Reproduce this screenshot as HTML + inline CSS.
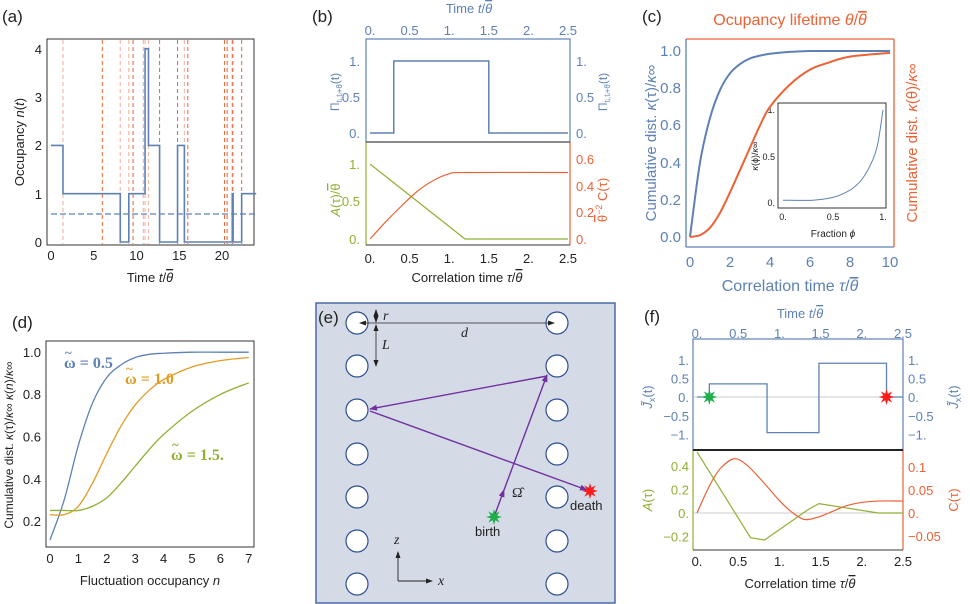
<!DOCTYPE html>
<html><head><meta charset="utf-8">
<style>
html,body{margin:0;padding:0;background:#fff;}
svg{display:block;font-family:"Liberation Sans",sans-serif;}
.t{font-size:13px;fill:#222;}
.bl{fill:#5e81b5;} .gr{fill:#8fb032;} .rd{fill:#eb6235;} .or{fill:#e19c24;}
</style></head>
<body>
<svg id="fig" width="970" height="604" viewBox="0 0 970 604">
<!-- Panel a -->
<g>
<text x="2" y="22" font-size="17" fill="#222">(a)</text>
<rect x="47" y="39" width="207" height="206" fill="none" stroke="#333" stroke-width="1"/>
<g id="a-lines"></g>
<g class="t" text-anchor="middle">
<text x="51" y="260">0</text><text x="93.8" y="260">5</text><text x="136.5" y="260">10</text><text x="179.3" y="260">15</text><text x="222" y="260">20</text></g>
<g class="t" text-anchor="end">
<text x="42" y="247">0</text><text x="42" y="199">1</text><text x="42" y="150">2</text><text x="42" y="102">3</text><text x="42" y="54">4</text></g>
<text class="t" x="150" y="282" text-anchor="middle">Time <tspan font-style="italic">t</tspan>/<tspan font-style="italic" text-decoration="overline">θ</tspan></text>
<text class="t" transform="translate(24,142) rotate(-90)" text-anchor="middle">Occupancy <tspan font-style="italic">n</tspan>(<tspan font-style="italic">t</tspan>)</text>
</g>
<!-- Panel b -->
<g>
<text x="312" y="22" font-size="17" fill="#222">(b)</text>
<rect x="366" y="39" width="204" height="103" fill="none" stroke="#5e81b5" stroke-width="1.2"/>
<line x1="366" y1="142" x2="366" y2="245" stroke="#8fb032" stroke-width="1.2"/>
<line x1="570" y1="142" x2="570" y2="245" stroke="#eb6235" stroke-width="1.2"/>
<line x1="366" y1="142" x2="570" y2="142" stroke="#555" stroke-width="1.2"/>
<line x1="366" y1="245" x2="570" y2="245" stroke="#333" stroke-width="1"/>
<text class="bl" x="469" y="13" font-size="13" text-anchor="middle">Time <tspan font-style="italic">t</tspan>/<tspan font-style="italic" text-decoration="overline">θ</tspan></text>
<g class="bl" font-size="13" text-anchor="middle">
<text x="370" y="35">0.</text><text x="409.6" y="35">0.5</text><text x="449.2" y="35">1.</text><text x="488.8" y="35">1.5</text><text x="528.4" y="35">2.</text><text x="568" y="35">2.5</text></g>
<g class="bl" font-size="13" text-anchor="end"><text x="360" y="66">1.</text><text x="360" y="102">0.5</text><text x="360" y="138">0.</text></g>
<g class="bl" font-size="13"><text x="576" y="66">1.</text><text x="576" y="102">0.5</text><text x="576" y="138">0.</text></g>
<g class="gr" font-size="13" text-anchor="end"><text x="360" y="169">1.</text><text x="360" y="206">0.5</text><text x="360" y="244">0.</text></g>
<g class="rd" font-size="13"><text x="576" y="164">0.6</text><text x="576" y="191">0.4</text><text x="576" y="217">0.2</text><text x="576" y="244">0.</text></g>
<g class="t" text-anchor="middle">
<text x="370" y="263">0.</text><text x="409.6" y="263">0.5</text><text x="449.2" y="263">1.</text><text x="488.8" y="263">1.5</text><text x="528.4" y="263">2.</text><text x="568" y="263">2.5</text></g>
<text class="t" x="467" y="282" text-anchor="middle">Correlation time <tspan font-style="italic">τ</tspan>/<tspan font-style="italic" text-decoration="overline">θ</tspan></text>
<text class="bl" font-size="12" transform="translate(339,92) rotate(-90)" text-anchor="middle">Π<tspan font-size="8" dy="3">tᵢ,tᵢ+θ</tspan><tspan dy="-3">(t)</tspan></text>
<text class="bl" font-size="12" transform="translate(607,92) rotate(-90)" text-anchor="middle">Π<tspan font-size="8" dy="3">tᵢ,tᵢ+θ</tspan><tspan dy="-3">(t)</tspan></text>
<text class="gr" font-size="13" transform="translate(340,200) rotate(-90)" text-anchor="middle"><tspan font-style="italic">A</tspan>(τ)/<tspan text-decoration="overline">θ</tspan></text>
<text class="rd" font-size="13" transform="translate(607,200) rotate(-90)" text-anchor="middle"><tspan text-decoration="overline">θ</tspan><tspan font-size="9" dy="-5">−2</tspan><tspan dy="5"> C(τ)</tspan></text>
</g>
<!-- Panel c -->
<g>
<text x="642" y="22" font-size="17" fill="#222">(c)</text>
<line x1="686" y1="39" x2="894" y2="39" stroke="#eb6235" stroke-width="1.3"/>
<line x1="894" y1="39" x2="894" y2="247" stroke="#eb6235" stroke-width="1.3"/>
<line x1="686" y1="39" x2="686" y2="247" stroke="#5e81b5" stroke-width="1.3"/>
<line x1="686" y1="247" x2="894" y2="247" stroke="#5e81b5" stroke-width="1.3"/>
<text class="rd" x="790" y="25" font-size="16" text-anchor="middle">Ocupancy lifetime <tspan font-style="italic">θ</tspan>/<tspan font-style="italic" text-decoration="overline">θ</tspan></text>
<g class="bl" font-size="15" text-anchor="middle">
<text x="690" y="267">0</text><text x="730" y="267">2</text><text x="770" y="267">4</text><text x="810" y="267">6</text><text x="850" y="267">8</text><text x="890" y="267">10</text></g>
<g class="bl" font-size="15" text-anchor="end">
<text x="681" y="242">0.0</text><text x="681" y="205">0.2</text><text x="681" y="168">0.4</text><text x="681" y="130">0.6</text><text x="681" y="93">0.8</text><text x="681" y="56">1.0</text></g>
<text class="bl" x="790" y="291" font-size="16" text-anchor="middle">Correlation time <tspan font-style="italic">τ</tspan>/<tspan font-style="italic" text-decoration="overline">θ</tspan></text>
<text class="bl" font-size="15" transform="translate(656,143) rotate(-90)" text-anchor="middle">Cumulative dist. <tspan font-style="italic">κ</tspan>(τ)/<tspan font-style="italic">κ</tspan>∞</text>
<text class="rd" font-size="15" transform="translate(917,143) rotate(-90)" text-anchor="middle">Cumulative dist. <tspan font-style="italic">κ</tspan>(θ)/<tspan font-style="italic">κ</tspan>∞</text>
<rect x="778" y="103" width="108" height="105" fill="#fff" stroke="#333" stroke-width="1"/>
<g font-size="9" fill="#222" text-anchor="middle"><text x="783" y="220">0.</text><text x="833" y="220">0.5</text><text x="883" y="220">1.</text></g>
<g font-size="9" fill="#222" text-anchor="end"><text x="775" y="206">0.</text><text x="775" y="160">0.5</text><text x="775" y="113">1.</text></g>
<text x="833" y="237" font-size="10" fill="#222" text-anchor="middle">Fraction <tspan font-style="italic">ϕ</tspan></text>
<text font-size="9" fill="#222" transform="translate(758,156) rotate(-90)" text-anchor="middle"><tspan font-style="italic">κ</tspan>(ϕ)/<tspan font-style="italic">κ</tspan>∞</text>
</g>
<!-- Panel d -->
<g>
<text x="12" y="328" font-size="17" fill="#222">(d)</text>
<rect x="46" y="341" width="208" height="206" fill="none" stroke="#333" stroke-width="1"/>
<g class="t" text-anchor="middle">
<text x="50" y="563">0</text><text x="78.4" y="563">1</text><text x="106.8" y="563">2</text><text x="135.2" y="563">3</text><text x="163.6" y="563">4</text><text x="192" y="563">5</text><text x="220.4" y="563">6</text><text x="248.8" y="563">7</text></g>
<g class="t" text-anchor="end">
<text x="41" y="526">0.2</text><text x="41" y="484">0.4</text><text x="41" y="441.5">0.6</text><text x="41" y="399">0.8</text><text x="41" y="357">1.0</text></g>
<text class="t" x="150" y="585" text-anchor="middle">Fluctuation occupancy <tspan font-style="italic">n</tspan></text>
<text font-size="12" fill="#222" transform="translate(13,445) rotate(-90)" text-anchor="middle">Cumulative dist. <tspan font-style="italic">κ</tspan>(τ)/<tspan font-style="italic">κ</tspan>∞ <tspan font-style="italic">κ</tspan>(<tspan font-style="italic">n</tspan>)/<tspan font-style="italic">κ</tspan>∞</text>
<g font-family="Liberation Serif,serif" font-size="16" font-weight="bold">
<text class="bl" x="64" y="368">ω = 0.5</text>
<text class="bl" x="65" y="357" font-size="13">~</text>
<text class="or" x="125" y="384">ω = 1.0</text>
<text class="or" x="126" y="373" font-size="13">~</text>
<text class="gr" x="171" y="460">ω = 1.5.</text>
<text class="gr" x="172" y="449" font-size="13">~</text>
</g>
</g>
<!-- Panel e -->
<g>
<defs>
<marker id="ah" markerWidth="8" markerHeight="8" refX="7" refY="4" orient="auto" markerUnits="userSpaceOnUse"><path d="M0,1 L8,4 L0,7 Z" fill="#7030a0"/></marker>
<marker id="ak" markerWidth="7" markerHeight="7" refX="6" refY="3.5" orient="auto" markerUnits="userSpaceOnUse"><path d="M0,1 L7,3.5 L0,6 Z" fill="#222"/></marker>
<marker id="ak2" markerWidth="7" markerHeight="7" refX="6" refY="3.5" orient="auto-start-reverse" markerUnits="userSpaceOnUse"><path d="M0,1 L7,3.5 L0,6 Z" fill="#222"/></marker>
</defs>
<rect x="316" y="303" width="299" height="300" fill="#d5dbe6" stroke="#4a6aa5" stroke-width="1.5"/>
<g id="e-circles"></g>
<text x="318" y="323" font-size="17" fill="#222">(e)</text>
<line x1="360" y1="323" x2="554" y2="323" stroke="#222" stroke-width="0.8" marker-start="url(#ak2)" marker-end="url(#ak)"/>
<line x1="376" y1="310" x2="376" y2="322" stroke="#222" stroke-width="0.8" marker-start="url(#ak2)" marker-end="url(#ak)"/>
<line x1="376" y1="325" x2="376" y2="366" stroke="#222" stroke-width="0.8" marker-start="url(#ak2)" marker-end="url(#ak)"/>
<text x="383" y="320" font-size="14" font-style="italic" font-family="Liberation Serif,serif" fill="#222">r</text>
<text x="461" y="337" font-size="14" font-style="italic" font-family="Liberation Serif,serif" fill="#222">d</text>
<text x="382" y="349" font-size="14" font-style="italic" font-family="Liberation Serif,serif" fill="#222">L</text>
<g stroke="#7030a0" stroke-width="1.4" fill="none">
<line x1="494" y1="517" x2="504" y2="490" marker-end="url(#ah)"/>
<line x1="504" y1="490" x2="547" y2="375" marker-end="url(#ah)"/>
<line x1="547" y1="376" x2="370" y2="409" marker-end="url(#ah)"/>
<line x1="370" y1="411" x2="587" y2="490" marker-end="url(#ah)"/>
</g>
<text x="512" y="497" font-size="14" font-family="Liberation Serif,serif" fill="#222">Ω̂</text>
<g id="e-stars"></g>
<text x="475" y="536" font-size="13" fill="#222">birth</text>
<text x="570" y="510" font-size="13" fill="#222">death</text>
<g stroke="#222" stroke-width="0.9">
<line x1="398" y1="581" x2="398" y2="552" marker-end="url(#ak)"/>
<line x1="398" y1="581" x2="432" y2="581" marker-end="url(#ak)"/></g>
<text x="394" y="544" font-size="14" font-style="italic" font-family="Liberation Serif,serif" fill="#222">z</text>
<text x="438" y="585" font-size="14" font-style="italic" font-family="Liberation Serif,serif" fill="#222">x</text>
</g>
<!-- Panel f -->
<g>
<text x="644" y="322" font-size="17" fill="#222">(f)</text>
<rect x="693" y="339" width="210" height="111" fill="none" stroke="#5e81b5" stroke-width="1.2"/>
<line x1="693" y1="450" x2="693" y2="550" stroke="#8fb032" stroke-width="1.2"/>
<line x1="903" y1="450" x2="903" y2="550" stroke="#eb6235" stroke-width="1.2"/>
<line x1="693" y1="450" x2="903" y2="450" stroke="#222" stroke-width="2"/>
<line x1="693" y1="550" x2="903" y2="550" stroke="#333" stroke-width="1"/>
<text class="bl" x="800" y="318" font-size="13" text-anchor="middle">Time <tspan font-style="italic">t</tspan>/<tspan font-style="italic" text-decoration="overline">θ</tspan></text>
<g class="bl" font-size="13" text-anchor="middle">
<text x="697" y="338">0.</text><text x="738.2" y="338">0.5</text><text x="779.4" y="338">1.</text><text x="820.6" y="338">1.5</text><text x="861.8" y="338">2.</text><text x="903" y="338">2.5</text></g>
<g class="bl" font-size="13" text-anchor="end"><text x="689" y="365">1.</text><text x="689" y="383.5">0.5</text><text x="689" y="402">0.</text><text x="689" y="421">−0.5</text><text x="689" y="439.5">−1.</text></g>
<g class="bl" font-size="13"><text x="908" y="365">1.</text><text x="908" y="383.5">0.5</text><text x="908" y="402">0.</text><text x="908" y="421">−0.5</text><text x="908" y="439.5">−1.</text></g>
<g class="gr" font-size="13" text-anchor="end"><text x="689" y="471">0.4</text><text x="689" y="494.5">0.2</text><text x="689" y="518">0.</text><text x="689" y="541.5">−0.2</text></g>
<g class="rd" font-size="13"><text x="908" y="472">0.1</text><text x="908" y="495">0.05</text><text x="908" y="518">0.</text><text x="908" y="541">−0.05</text></g>
<g class="t" text-anchor="middle">
<text x="697" y="566">0.</text><text x="738.2" y="566">0.5</text><text x="779.4" y="566">1.</text><text x="820.6" y="566">1.5</text><text x="861.8" y="566">2.</text><text x="903" y="566">2.5</text></g>
<text class="t" x="800" y="588" text-anchor="middle">Correlation time <tspan font-style="italic">τ</tspan>/<tspan font-style="italic" text-decoration="overline">θ</tspan></text>
<text class="bl" font-size="13" transform="translate(652,397) rotate(-90)" text-anchor="middle"><tspan font-style="italic">J̃</tspan><tspan font-size="9" dy="3">x</tspan><tspan dy="-3">(t)</tspan></text>
<text class="bl" font-size="13" transform="translate(958,397) rotate(-90)" text-anchor="middle"><tspan font-style="italic">J̃</tspan><tspan font-size="9" dy="3">x</tspan><tspan dy="-3">(t)</tspan></text>
<text class="gr" font-size="13" transform="translate(652,500) rotate(-90)" text-anchor="middle"><tspan font-style="italic">A</tspan>(τ)</text>
<text class="rd" font-size="13" transform="translate(958,500) rotate(-90)" text-anchor="middle">C(τ)</text>
</g>
<g id="marks"></g>
</svg>
<script>
// ---- data arrays ----
const aStepTimes = [0, 1.4, 8.1, 9.1, 11, 11.4, 12.7, 14.8, 15.6, 21.2, 21.3, 22.3, 24];
const aStepValues = [2, 1, 0, 1, 4, 2, 0, 2, 0, 1, 0, 1, 1];
const aMean = 0.58;
const aEventStrong = [6, 9.6, 12.7, 14.8, 16, 20.3, 20.6, 21.2, 22.3];
const aEventFaint = [1.4, 8.1, 9.1, 10.8, 11, 11.4, 15.6, 21.3];
const bPiTimes = [0, 0.3, 1.5, 2.5];
const bPiValues = [0, 1, 0, 0];
const bTau = [0, 0.2, 0.4, 0.6, 0.8, 1.0, 1.2, 2.5];
const bA = [1, 0.833, 0.667, 0.5, 0.333, 0.167, 0, 0];
const bC = [0, 0.13, 0.25, 0.36, 0.44, 0.49, 0.5, 0.5];
const cTau = [0, 0.5, 1, 1.5, 2, 2.5, 3, 3.5, 4, 5, 6, 7, 8, 10];
const cBlue = [0, 0.4, 0.64, 0.79, 0.88, 0.93, 0.96, 0.975, 0.985, 0.995, 1, 1, 1, 1];
const cRed = [0, 0.01, 0.05, 0.13, 0.24, 0.36, 0.48, 0.6, 0.7, 0.82, 0.9, 0.94, 0.97, 0.99];
const cPhi = [0, 0.3, 0.5, 0.6, 0.7, 0.8, 0.9, 0.95, 1];
const cInset = [0.03, 0.03, 0.06, 0.1, 0.16, 0.27, 0.47, 0.65, 1];
const dN = [0, 0.5, 1, 1.5, 2, 2.5, 3, 3.5, 4, 5, 6, 7];
const dBlue = [0.11, 0.3, 0.56, 0.76, 0.88, 0.94, 0.975, 0.99, 0.995, 1, 1, 1];
const dOrange = [0.23, 0.23, 0.27, 0.38, 0.52, 0.65, 0.75, 0.82, 0.87, 0.93, 0.96, 0.975];
const dGreen = [0.25, 0.25, 0.25, 0.27, 0.31, 0.38, 0.46, 0.54, 0.61, 0.72, 0.8, 0.855];
const fJTimes = [0, 0.15, 0.85, 1.48, 2.3, 2.5];
const fJValues = [0, 0.35, -0.95, 0.9, 0, 0];
const fATau = [0, 0.65, 0.82, 1.35, 1.48, 2.2, 2.5];
const fA = [0.52, -0.21, -0.23, 0.03, 0.08, 0, 0];
const fCTau = [0, 0.1, 0.2, 0.3, 0.45, 0.6, 0.8, 1.0, 1.15, 1.3, 1.45, 1.6, 1.8, 2.0, 2.2, 2.5];
const fC = [0, 0.04, 0.075, 0.1, 0.118, 0.105, 0.068, 0.027, 0.002, -0.014, -0.01, 0.0, 0.015, 0.023, 0.026, 0.026];

// ---- axis functions ----
const ax = t => 51 + 8.55 * t, ay = v => 242 - 48.3 * v;
const bx = t => 370 + 79.2 * t, byTop = v => 133 - 72 * v, byA = v => 239 - 75 * v, byC = v => 239 - 133 * v;
const cx = t => 690 + 20 * t, cy = v => 237 - 186 * v;
const ix = p => 783 + 100 * p, iy = v => 203 - 93 * v;
const dx = n => 50 + 28.4 * n, dy = v => 521 - 211 * (v - 0.2);
const fx = t => 697 + 82.4 * t, fyTop = v => 397 - 37.5 * v, fyA = v => 513 - 117.5 * v, fyC = v => 513 - 460 * v;

const NS = 'http://www.w3.org/2000/svg';
const marks = document.getElementById('marks');
function mk(tag, attrs, parent) {
  const e = document.createElementNS(NS, tag);
  for (const k in attrs) e.setAttribute(k, attrs[k]);
  (parent || marks).appendChild(e);
  return e;
}
function stepPath(xs, vs, X, Y) {
  let d = 'M' + X(xs[0]) + ',' + Y(vs[0]);
  for (let i = 1; i < xs.length; i++) {
    d += 'L' + X(xs[i]) + ',' + Y(vs[i - 1]) + 'L' + X(xs[i]) + ',' + Y(vs[Math.min(i, vs.length - 1)]);
  }
  return d;
}
function smoothPath(xs, vs, X, Y) {
  const p = xs.map((x, i) => [X(x), Y(vs[i])]);
  let d = 'M' + p[0][0] + ',' + p[0][1];
  for (let i = 0; i < p.length - 1; i++) {
    const p0 = p[Math.max(i - 1, 0)], p1 = p[i], p2 = p[i + 1], p3 = p[Math.min(i + 2, p.length - 1)];
    const c1 = [p1[0] + (p2[0] - p0[0]) / 6, p1[1] + (p2[1] - p0[1]) / 6];
    const c2 = [p2[0] - (p3[0] - p1[0]) / 6, p2[1] - (p3[1] - p1[1]) / 6];
    d += 'C' + c1[0] + ',' + c1[1] + ' ' + c2[0] + ',' + c2[1] + ' ' + p2[0] + ',' + p2[1];
  }
  return d;
}
function linePath(xs, vs, X, Y) {
  return xs.map((x, i) => (i ? 'L' : 'M') + X(x) + ',' + Y(vs[i])).join('');
}
function star(cxp, cyp, color, name) {
  let pts = [];
  for (let i = 0; i < 16; i++) {
    const r = i % 2 ? 3.5 : 8, a = Math.PI * i / 8;
    pts.push((cxp + r * Math.cos(a)) + ',' + (cyp + r * Math.sin(a)));
  }
  const s = mk('polygon', { points: pts.join(' '), fill: color });
  
  
}

// Panel a
const aLines = document.getElementById('a-lines');
aEventFaint.forEach(t => {
  const l = mk('line', { x1: ax(t), x2: ax(t), y1: 40, y2: 244, stroke: '#f4b9a6', 'stroke-width': 1.2, 'stroke-dasharray': '4,3' }, aLines);
  
  
});
aEventStrong.forEach(t => {
  const l = mk('line', { x1: ax(t), x2: ax(t), y1: 40, y2: 244, stroke: '#eb6235', 'stroke-width': 1, 'stroke-dasharray': '4,3' }, aLines);
  
  
});
const aMeanLine = mk('line', { x1: ax(0), x2: ax(24), y1: ay(aMean), y2: ay(aMean), stroke: '#5e81b5', 'stroke-width': 1.3, 'stroke-dasharray': '6,3' });


const aStep = mk('path', { d: stepPath(aStepTimes, aStepValues, ax, ay), fill: 'none', stroke: '#5e81b5', 'stroke-width': 1.6 });



// Panel b
const bPi = mk('path', { d: stepPath(bPiTimes, bPiValues, bx, byTop), fill: 'none', stroke: '#5e81b5', 'stroke-width': 1.5 });


const bALine = mk('path', { d: linePath(bTau, bA, bx, byA), fill: 'none', stroke: '#8fb032', 'stroke-width': 1.2 });


const bCLine = mk('path', { d: smoothPath(bTau, bC, bx, byC), fill: 'none', stroke: '#eb6235', 'stroke-width': 1.2 });



// Panel c
const cB = mk('path', { d: smoothPath(cTau, cBlue, cx, cy), fill: 'none', stroke: '#5e81b5', 'stroke-width': 2 });


const cR = mk('path', { d: smoothPath(cTau, cRed, cx, cy), fill: 'none', stroke: '#eb6235', 'stroke-width': 2 });


const cI = mk('path', { d: smoothPath(cPhi, cInset, ix, iy), fill: 'none', stroke: '#5e81b5', 'stroke-width': 1 });



// Panel d
const dB = mk('path', { d: smoothPath(dN, dBlue, dx, dy), fill: 'none', stroke: '#5e81b5', 'stroke-width': 1.3 });


const dO = mk('path', { d: smoothPath(dN, dOrange, dx, dy), fill: 'none', stroke: '#e19c24', 'stroke-width': 1.3 });


const dG = mk('path', { d: smoothPath(dN, dGreen, dx, dy), fill: 'none', stroke: '#8fb032', 'stroke-width': 1.3 });



// Panel e circles
const ec = document.getElementById('e-circles');
[357, 557].forEach(x => [323, 366, 410, 454, 497, 541, 584].forEach(y => {
  const c = mk('circle', { cx: x, cy: y, r: 11, fill: '#fff', stroke: '#2d4e8f', 'stroke-width': 1.2 }, ec);
  
  
}));
star(494, 517, '#1fae4b', 'e-birth-star');
star(590, 491, '#ff1a1a', 'e-death-star');

// Panel f
const fZ1 = mk('line', { x1: 693, x2: 903, y1: fyTop(0), y2: fyTop(0), stroke: '#bbb', 'stroke-width': 0.8 });


const fZ2 = mk('line', { x1: 693, x2: 903, y1: fyA(0), y2: fyA(0), stroke: '#bbb', 'stroke-width': 0.8 });


const fJ = mk('path', { d: stepPath(fJTimes, fJValues, fx, fyTop), fill: 'none', stroke: '#5e81b5', 'stroke-width': 1.3 });


const fAL = mk('path', { d: linePath(fATau, fA, fx, fyA), fill: 'none', stroke: '#8fb032', 'stroke-width': 1.2 });


const fCL = mk('path', { d: smoothPath(fCTau, fC, fx, fyC), fill: 'none', stroke: '#eb6235', 'stroke-width': 1.2 });


star(fx(fJTimes[1]), fyTop(0), '#1fae4b', 'f-birth-star');
star(fx(fJTimes[4]), fyTop(0), '#ff1a1a', 'f-death-star');
</script>
</body></html>
